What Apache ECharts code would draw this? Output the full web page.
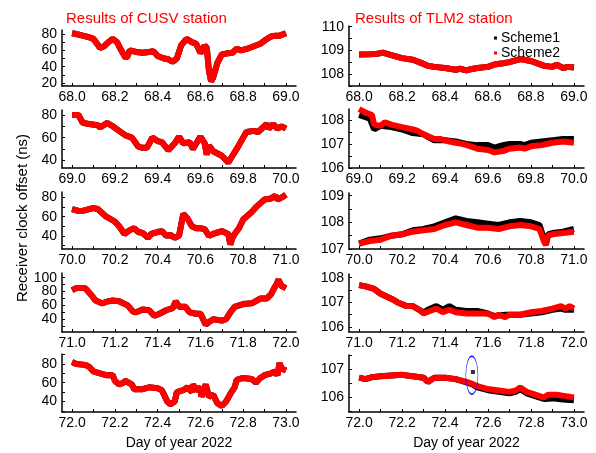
<!DOCTYPE html>
<html>
<head>
<meta charset="utf-8">
<script src="https://cdn.jsdelivr.net/npm/echarts@6/dist/echarts.min.js"></script>
<style>
  html, body { margin: 0; padding: 0; background: #fff; }
  #main { width: 596px; height: 453px; }
</style>
</head>
<body>
<div id="main"></div>
<script>
// CUSV station, one array per day (scheme2, scheme1 hidden below it)
var cusvDay68 = [[68.0,81],[68.02,80],[68.05,78],[68.08,76],[68.1,74],[68.12,67],[68.13,63],[68.15,65],[68.17,70],[68.19,74],[68.21,70],[68.23,60],[68.25,51],[68.26,53],[68.27,60],[68.3,58],[68.33,57],[68.36,58],[68.38,59],[68.4,53],[68.43,50],[68.45,49],[68.47,46],[68.49,50],[68.51,66],[68.535,74],[68.56,70],[68.58,68],[68.6,57],[68.61,60],[68.62,66],[68.63,63],[68.64,35],[68.65,22],[68.66,27],[68.68,45],[68.7,55],[68.72,56],[68.75,57],[68.77,62],[68.79,60],[68.82,62],[68.85,65],[68.88,68],[68.9,72],[68.93,77],[68.95,78],[68.97,78],[69.0,81]];
var cusvDay69 = [[69.0,80],[69.03,80],[69.05,73],[69.08,72],[69.12,71],[69.13,69],[69.165,73],[69.19,70],[69.22,66],[69.25,62],[69.28,60],[69.31,52],[69.33,51],[69.35,51],[69.375,60],[69.4,57],[69.42,56],[69.45,49],[69.48,55],[69.5,61],[69.52,55],[69.55,56],[69.565,50],[69.6,61],[69.62,55],[69.63,45],[69.64,53],[69.66,48],[69.68,46],[69.7,44],[69.73,38],[69.75,44],[69.77,50],[69.8,60],[69.815,65],[69.85,66],[69.87,65],[69.91,72],[69.92,68],[69.94,72],[69.96,68],[69.98,70],[70.0,68]];
var cusvDay70 = [[70.0,68],[70.03,66],[70.05,66],[70.08,68],[70.1,69],[70.12,68],[70.16,60],[70.2,55],[70.22,50],[70.245,42],[70.27,46],[70.29,48],[70.31,44],[70.33,43],[70.355,38],[70.37,42],[70.4,44],[70.42,45],[70.44,40],[70.46,41],[70.48,38],[70.5,40],[70.52,63],[70.54,58],[70.56,50],[70.58,48],[70.6,48],[70.62,47],[70.64,40],[70.66,42],[70.7,45],[70.73,42],[70.74,31],[70.75,38],[70.76,42],[70.78,48],[70.8,57],[70.84,65],[70.86,70],[70.9,78],[70.93,79],[70.95,82],[70.96,78],[70.98,80],[71.0,83]];
var cusvDay71 = [[71.0,82],[71.02,85],[71.06,85],[71.07,82],[71.09,75],[71.11,67],[71.14,63],[71.17,66],[71.19,67],[71.22,66],[71.26,60],[71.285,51],[71.3,50],[71.33,54],[71.36,53],[71.385,45],[71.41,48],[71.44,53],[71.47,56],[71.485,66],[71.5,58],[71.53,58],[71.55,50],[71.58,48],[71.6,48],[71.61,42],[71.625,32],[71.64,36],[71.66,40],[71.7,38],[71.72,40],[71.74,50],[71.76,58],[71.8,62],[71.84,63],[71.87,68],[71.88,70],[71.91,70],[71.93,76],[71.945,85],[71.955,90],[71.965,97],[71.98,88],[72.0,85]];
var cusvDay72 = [[72.0,82],[72.02,80],[72.06,79],[72.08,77],[72.1,72],[72.13,70],[72.16,68],[72.19,68],[72.2,62],[72.22,58],[72.24,60],[72.25,62],[72.28,58],[72.29,53],[72.33,53],[72.36,55],[72.4,54],[72.42,52],[72.445,40],[72.46,37],[72.48,40],[72.49,50],[72.52,52],[72.54,55],[72.56,50],[72.565,58],[72.58,52],[72.6,55],[72.605,45],[72.625,58],[72.64,45],[72.66,47],[72.68,38],[72.7,35],[72.72,40],[72.74,48],[72.76,55],[72.77,63],[72.8,65],[72.84,64],[72.86,60],[72.88,65],[72.9,68],[72.93,70],[72.95,72],[72.96,68],[72.97,81],[72.98,75],[73.0,73]];

// TLM2 station, scheme1 (black) and scheme2 (red)
var tlmS2Day68 = [[68.0,108.82],[68.05,108.83],[68.08,108.85],[68.11,108.9],[68.15,108.8],[68.2,108.67],[68.25,108.6],[68.28,108.5],[68.32,108.35],[68.35,108.3],[68.4,108.25],[68.45,108.18],[68.47,108.22],[68.5,108.15],[68.52,108.2],[68.55,108.25],[68.6,108.3],[68.63,108.4],[68.67,108.45],[68.7,108.5],[68.75,108.63],[68.8,108.55],[68.83,108.45],[68.86,108.35],[68.9,108.3],[68.92,108.4],[68.95,108.25],[68.97,108.3],[69.0,108.27]];
var tlmS1Day68 = [[68.0,108.82],[68.05,108.83],[68.08,108.85],[68.11,108.9],[68.15,108.8],[68.2,108.67],[68.25,108.6],[68.28,108.5],[68.32,108.35],[68.35,108.3],[68.4,108.25],[68.45,108.18],[68.47,108.22],[68.5,108.15],[68.52,108.2],[68.55,108.25],[68.6,108.3],[68.63,108.4],[68.67,108.45],[68.7,108.5],[68.75,108.63],[68.8,108.55],[68.83,108.45],[68.86,108.35],[68.9,108.3],[68.92,108.4],[68.95,108.25],[68.97,108.3],[69.0,108.27]];
var tlmS2Day69 = [[69.0,108.45],[69.03,108.3],[69.06,108.2],[69.07,107.8],[69.1,107.75],[69.12,107.9],[69.15,107.8],[69.2,107.7],[69.25,107.6],[69.27,107.55],[69.3,107.4],[69.35,107.2],[69.38,107.2],[69.42,107.1],[69.45,107.05],[69.48,107.0],[69.52,106.9],[69.55,106.8],[69.6,106.75],[69.63,106.65],[69.67,106.7],[69.7,106.8],[69.75,106.85],[69.77,106.8],[69.8,106.9],[69.85,106.95],[69.9,107.05],[69.95,107.1],[70.0,107.05]];
var tlmS1Day69 = [[69.0,108.2],[69.05,108.05],[69.07,107.6],[69.1,107.75],[69.15,107.7],[69.2,107.6],[69.25,107.45],[69.3,107.4],[69.35,107.15],[69.4,107.15],[69.45,107.1],[69.5,107.0],[69.55,106.95],[69.6,106.95],[69.63,106.85],[69.67,106.95],[69.7,107.0],[69.75,107.0],[69.77,106.95],[69.8,107.05],[69.85,107.1],[69.9,107.15],[69.95,107.2],[70.0,107.2]];
var tlmS2Day70 = [[70.0,107.2],[70.05,107.3],[70.1,107.35],[70.15,107.5],[70.2,107.55],[70.25,107.65],[70.3,107.7],[70.35,107.75],[70.4,107.9],[70.45,108.0],[70.5,107.9],[70.55,107.8],[70.6,107.8],[70.65,107.75],[70.7,107.85],[70.75,107.9],[70.8,107.85],[70.84,107.75],[70.86,107.3],[70.87,107.15],[70.88,107.5],[70.9,107.55],[70.95,107.6],[71.0,107.65]];
var tlmS1Day70 = [[70.0,107.2],[70.05,107.35],[70.1,107.4],[70.15,107.5],[70.2,107.55],[70.25,107.7],[70.3,107.75],[70.35,107.85],[70.4,108.0],[70.45,108.15],[70.5,108.05],[70.55,108.0],[70.6,107.95],[70.65,107.9],[70.7,108.0],[70.75,108.05],[70.8,108.0],[70.84,107.9],[70.86,107.4],[70.87,107.2],[70.88,107.55],[70.9,107.6],[70.95,107.65],[71.0,107.75]];
var tlmS2Day71 = [[71.0,107.7],[71.03,107.65],[71.07,107.55],[71.1,107.35],[71.15,107.15],[71.18,107.0],[71.22,106.85],[71.25,106.85],[71.28,106.7],[71.3,106.55],[71.33,106.65],[71.36,106.75],[71.39,106.6],[71.42,106.7],[71.45,106.6],[71.5,106.55],[71.55,106.55],[71.6,106.55],[71.63,106.4],[71.65,106.5],[71.68,106.4],[71.7,106.5],[71.75,106.5],[71.8,106.6],[71.85,106.65],[71.9,106.75],[71.94,106.85],[71.96,106.75],[71.98,106.85],[72.0,106.75]];
var tlmS1Day71 = [[71.0,107.7],[71.03,107.65],[71.07,107.55],[71.1,107.35],[71.15,107.15],[71.18,107.0],[71.22,106.85],[71.25,106.85],[71.28,106.7],[71.3,106.6],[71.32,106.7],[71.36,106.85],[71.39,106.7],[71.42,106.85],[71.45,106.7],[71.5,106.65],[71.55,106.65],[71.6,106.55],[71.63,106.45],[71.68,106.5],[71.75,106.5],[71.8,106.55],[71.85,106.6],[71.9,106.7],[71.94,106.75],[71.96,106.7],[72.0,106.7]];
var tlmS2Day72 = [[72.0,106.7],[72.03,106.65],[72.06,106.72],[72.1,106.75],[72.15,106.78],[72.2,106.8],[72.25,106.75],[72.3,106.7],[72.32,106.55],[72.35,106.7],[72.4,106.7],[72.45,106.65],[72.5,106.55],[72.52,106.5],[72.55,106.4],[72.6,106.3],[72.65,106.25],[72.7,106.2],[72.73,106.25],[72.75,106.35],[72.78,106.2],[72.82,106.1],[72.86,106.0],[72.88,106.1],[72.92,106.1],[72.96,106.05],[73.0,106.0]];
var tlmS1Day72 = [[72.0,106.7],[72.03,106.65],[72.06,106.72],[72.1,106.75],[72.15,106.78],[72.2,106.8],[72.25,106.75],[72.3,106.7],[72.32,106.55],[72.35,106.7],[72.4,106.7],[72.45,106.65],[72.5,106.53],[72.53,106.45],[72.55,106.36],[72.6,106.26],[72.65,106.2],[72.7,106.15],[72.73,106.2],[72.75,106.3],[72.78,106.15],[72.82,106.05],[72.86,105.95],[72.9,105.97],[72.95,105.93],[73.0,105.9]];
var tlmS1Outlier = [[72.53,106.9]];

var days = [68, 69, 70, 71, 72];
var cusvData = [cusvDay68, cusvDay69, cusvDay70, cusvDay71, cusvDay72];
var tlmS1Data = [tlmS1Day68, tlmS1Day69, tlmS1Day70, tlmS1Day71, tlmS1Day72];
var tlmS2Data = [tlmS2Day68, tlmS2Day69, tlmS2Day70, tlmS2Day71, tlmS2Day72];

// y axis ranges, labels and ticks per panel
var cusvYMin = [16.3, 33.2, 26.3, 21.6, 28.7];
var cusvYMax = [84.9, 84.4, 85.8, 106.8, 90.6];
var cusvYLabels = [[20,40,60,80],[40,60,80],[40,60,80],[40,60,80,100],[40,60,80]];
var cusvYTicks = [[20,30,40,50,60,70,80],[40,50,60,70,80],[30,40,50,60,70,80],[30,40,50,60,70,80,90,100],[30,40,50,60,70,80,90]];
var tlmYMin = [107.49, 106, 107, 105.8, 105.49];
var tlmYMax = [110.03, 108.45, 109.1, 108.15, 107.5];
var tlmYLabels = [[108,109,110],[106,107,108],[107,108,109],[106,107,108],[106,107]];
var tlmYTicks = [[107.5,108,108.5,109,109.5,110],[106,106.5,107,107.5,108],[107,107.5,108,108.5,109],[106,106.5,107,107.5,108],[105.5,106,106.5,107,107.5]];

var leftTops = [30, 110, 192, 273, 354];
var leftHeights = [56, 58, 57, 59, 58];
var rightTops = [26, 109, 193, 274, 355];
var rightHeights = [60, 59, 56, 58, 57];

var font = 'Liberation Sans, Arial, sans-serif';
var grids = [], xAxes = [], yAxes = [], series = [];

function xTickList(d) {
    var a = [];
    for (var i = 0; i <= 10; i++) a.push(+(d + i / 10).toFixed(1));
    return a;
}
function xLabelList(d) {
    var a = [];
    for (var i = 0; i <= 5; i++) a.push(+(d + i / 5).toFixed(1));
    return a;
}

function addPanel(col, row) {
    var idx = grids.length;
    var d = days[row];
    grids.push(col === 0
        ? { left: 62, width: 234, top: leftTops[row], height: leftHeights[row] }
        : { left: 349, width: 235, top: rightTops[row], height: rightHeights[row] });
    xAxes.push({
        type: 'value', gridIndex: idx, min: d - 0.047, max: d + 1.047,
        name: row === 4 ? 'Day of year 2022' : '',
        nameLocation: 'middle', nameGap: 24,
        nameTextStyle: { fontFamily: font, fontSize: 14, color: '#000' },
        axisLine: { lineStyle: { color: '#000', width: 1.5 } },
        axisTick: { inside: true, length: 3, customValues: xTickList(d), lineStyle: { color: '#000' } },
        axisLabel: { customValues: xLabelList(d), margin: 4, fontFamily: font, fontSize: 14, color: '#000',
            formatter: function (v) { return v.toFixed(1); } },
        splitLine: { show: false }
    });
    yAxes.push({
        type: 'value', gridIndex: idx,
        min: col === 0 ? cusvYMin[row] : tlmYMin[row],
        max: col === 0 ? cusvYMax[row] : tlmYMax[row],
        axisLine: { show: true, lineStyle: { color: '#000', width: 1.5 } },
        axisTick: { show: true, inside: true, length: 3, lineStyle: { color: '#000' },
            customValues: col === 0 ? cusvYTicks[row] : tlmYTicks[row] },
        axisLabel: { customValues: col === 0 ? cusvYLabels[row] : tlmYLabels[row], margin: 5,
            fontFamily: font, fontSize: 14, color: '#000' },
        splitLine: { show: false }
    });
    var s1 = col === 0 ? cusvData[row] : tlmS1Data[row];
    var s2 = col === 0 ? cusvData[row] : tlmS2Data[row];
    series.push({ name: 'Scheme1', type: 'line', xAxisIndex: idx, yAxisIndex: idx, data: s1,
        showSymbol: false, symbol: 'none', lineStyle: { color: '#000', width: 6 }, itemStyle: { color: '#000' } });
    if (col === 1 && row === 4) {
        series.push({ name: 'Scheme1', type: 'scatter', xAxisIndex: idx, yAxisIndex: idx, data: tlmS1Outlier,
            symbol: 'rect', symbolSize: 4, itemStyle: { color: '#000' } });
    }
    series.push({ name: 'Scheme2', type: 'line', xAxisIndex: idx, yAxisIndex: idx, data: s2,
        showSymbol: false, symbol: 'none', lineStyle: { color: '#ff0000', width: 6 }, itemStyle: { color: '#ff0000' } });
}

for (var r = 0; r < 5; r++) { addPanel(0, r); addPanel(1, r); }

var yName = { type: 'text', x: 23, y: 218, rotation: Math.PI / 2,
    style: { text: 'Receiver clock offset (ns)', font: '15px ' + font, fill: '#000',
             align: 'center', verticalAlign: 'middle' } };

var chart = echarts.init(document.getElementById('main'));
chart.setOption({
    animation: false,
    title: [
        { text: 'Results of CUSV station', left: 61, top: 6,
          textStyle: { fontFamily: font, fontSize: 15, fontWeight: 'normal', color: '#ff0000' } },
        { text: 'Results of TLM2 station', left: 350, top: 6,
          textStyle: { fontFamily: font, fontSize: 15, fontWeight: 'normal', color: '#ff0000' } }
    ],
    legend: {
        orient: 'vertical', left: 489, top: 26, itemGap: 1,
        itemWidth: 3, itemHeight: 3, icon: 'rect',
        data: ['Scheme1', 'Scheme2'],
        textStyle: { fontFamily: font, fontSize: 14, color: '#000', padding: [0, 0, 0, -1] }
    },
    grid: grids,
    xAxis: xAxes,
    yAxis: yAxes,
    series: series
});

// blue ellipse around the outlier in the last TLM2 panel
var c = chart.convertToPixel({ gridIndex: 9 }, [72.525, 106.79]);
chart.setOption({
    graphic: [
        yName,
        { type: 'circle', x: c[0], y: c[1], scaleX: 0.32, shape: { cx: 0, cy: 0, r: 19 },
          style: { fill: 'none', stroke: '#0000ff', lineWidth: 1.5 }, z: 100 }
    ]
});
window.addEventListener('resize', chart.resize);
</script>
</body>
</html>
